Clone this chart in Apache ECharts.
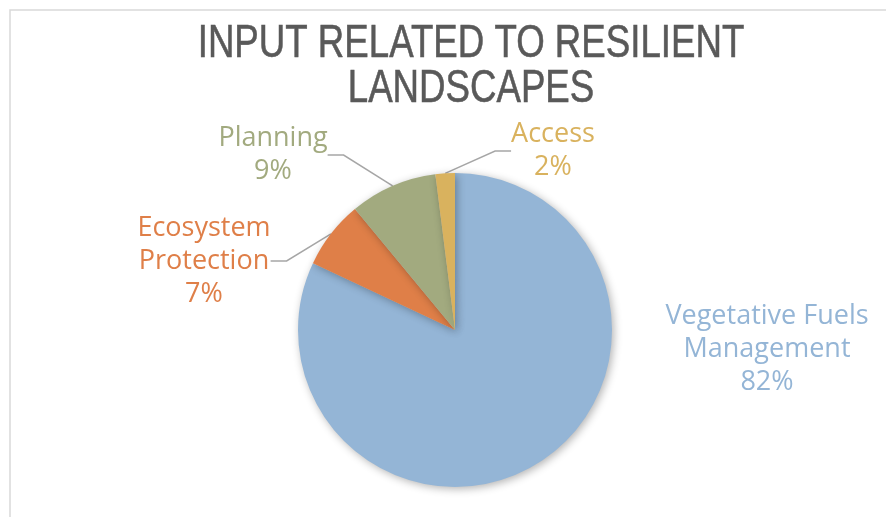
<!DOCTYPE html>
<html>
<head>
<meta charset="utf-8">
<script src="https://cdn.jsdelivr.net/npm/echarts@6/dist/echarts.min.js"></script>
<style>
  html, body { margin: 0; padding: 0; background: #fff; }
  #chart { width: 886px; height: 517px; }
</style>
</head>
<body>
<div id="chart"></div>
<script>
// 饼图数据
const categories = ['Vegetative Fuels\nManagement', 'Ecosystem\nProtection', 'Planning', 'Access'];
const values = [82, 7, 9, 2];
const colors = ['#94B5D6', '#DF7F48', '#A2AA7F', '#D9B25E'];
const titleLines = ['INPUT RELATED TO RESILIENT', 'LANDSCAPES'];

// 标签位置 (label centre)
const labelPos = [[767, 349], [204, 261], [273, 155], [553, 151]];

const chart = echarts.init(document.getElementById('chart'));

const data = categories.map((name, i) => ({
  name,
  value: values[i],
  itemStyle: { color: colors[i] },
  label: { color: colors[i] },
  labelLine: { show: i !== 0 },
}));

// 标题用窄体：Liberation Sans 横向压缩
const titleFont = 'normal 47px "Liberation Sans", Arial, sans-serif';
const titleGraphics = titleLines.map((t, i) => ({
  type: 'text',
  x: 471,
  y: 44 + i * 45,
  scaleX: 0.78,
  silent: true,
  style: {
    text: t,
    font: titleFont,
    fill: '#595959',
    stroke: '#595959',
    lineWidth: 0.6,
    textAlign: 'center',
    textVerticalAlign: 'middle',
  },
}));

chart.setOption({
  backgroundColor: '#fff',
  animation: false,
  graphic: [{
    type: 'rect',
    shape: { x: 10, y: 10, width: 1000, height: 1000 },
    style: { fill: 'none', stroke: '#D9D9D9', lineWidth: 1.5 },
    silent: true,
  }].concat(titleGraphics),
  series: [{
    type: 'pie',
    center: [455, 330],
    radius: 157,
    startAngle: 90,
    clockwise: true,
    data,
    itemStyle: {
      borderWidth: 0,
      shadowBlur: 8,
      shadowColor: 'rgba(0,0,0,0.3)',
      shadowOffsetX: 2,
      shadowOffsetY: 2,
    },
    label: {
      show: true,
      position: 'outside',
      formatter: '{b}\n{c}%',
      fontFamily: '"Open Sans", sans-serif',
      fontSize: 27,
      lineHeight: 33,
      align: 'center',
    },
    labelLine: {
      show: true,
      length: 20,
      length2: 16,
      lineStyle: { color: '#A6A6A6', width: 1.5 },
    },
    labelLayout: (params) => {
      const p = labelPos[params.dataIndex];
      return { x: p[0], y: p[1], align: 'center', verticalAlign: 'middle' };
    },
    emphasis: { disabled: true },
  }],
});
</script>
</body>
</html>
